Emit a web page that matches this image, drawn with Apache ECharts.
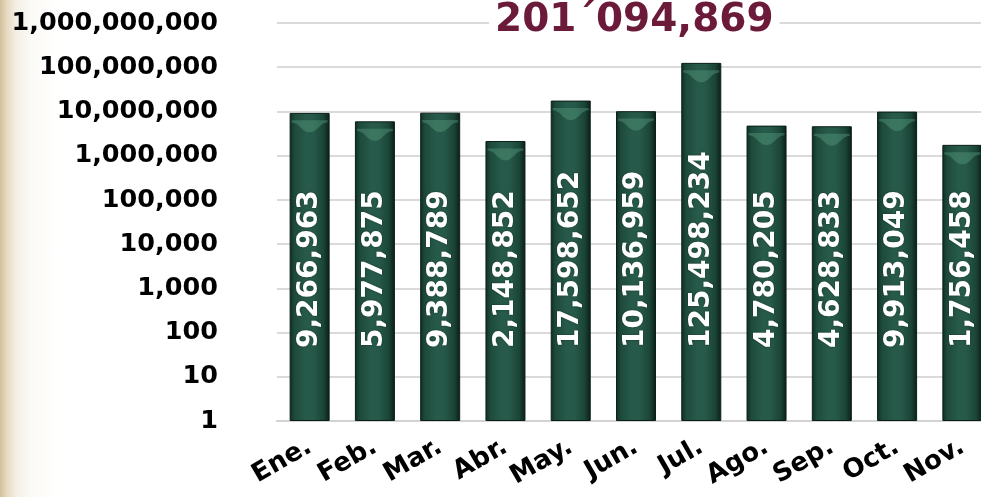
<!DOCTYPE html>
<html>
<head>
<meta charset="utf-8">
<script src="https://cdn.jsdelivr.net/npm/echarts@6/dist/echarts.min.js"></script>
<style>
  html, body { margin: 0; padding: 0; }
  body {
    width: 981px; height: 497px; overflow: hidden;
    background: linear-gradient(to right, #d2c09b 0px, #e6dac2 7px, #f4efe4 16px, #fbfaf6 30px, #ffffff 60px);
  }
  #chart { width: 981px; height: 497px; }
</style>
</head>
<body>
<div id="chart"></div>
<script>
// monthly totals (log scale)
const months = ['Ene.', 'Feb.', 'Mar.', 'Abr.', 'May.', 'Jun.', 'Jul.', 'Ago.', 'Sep.', 'Oct.', 'Nov.']
const values = [9266963, 5977875, 9388789, 2148852, 17598652, 10136959, 125498234, 4780205, 4628833, 9913049, 1756458]
const totalText = '201´094,869'

const fontFam = 'DejaVu Sans'
const fmt = v => Math.round(v).toLocaleString('en-US')

const chart = echarts.init(document.getElementById('chart'))

const barColor = new echarts.graphic.LinearGradient(0, 0, 1, 0, [
  { offset: 0, color: '#0f2c23' },
  { offset: 0.12, color: '#1d4a3b' },
  { offset: 0.4, color: '#275a4a' },
  { offset: 0.6, color: '#265949' },
  { offset: 0.85, color: '#1a4436' },
  { offset: 1, color: '#0a1d17' }
])

const option = {
  backgroundColor: 'transparent',
  animation: false,
  title: {
    text: totalText,
    left: 489,
    top: 1,
    padding: [0, 6],
    backgroundColor: '#ffffff',
    textStyle: { fontFamily: fontFam, fontWeight: 'bold', fontSize: 39, color: '#6b1a3a' }
  },
  grid: { left: 277, top: 23, width: 718, height: 398, containLabel: false, outerBoundsMode: 'none' },
  xAxis: {
    type: 'category',
    data: months,
    axisLine: { lineStyle: { color: '#d2d2d2', width: 2 } },
    axisTick: { show: false },
    axisLabel: {
      rotate: 30, margin: 24, interval: 0,
      fontFamily: fontFam, fontWeight: 'bold', fontSize: 26, color: '#000'
    }
  },
  yAxis: {
    type: 'log',
    logBase: 10,
    min: 1,
    max: 1000000000,
    offset: 27,
    axisLine: { show: false },
    axisTick: { show: false },
    splitLine: { lineStyle: { color: '#dadada', width: 2 } },
    axisLabel: {
      margin: 32,
      fontFamily: fontFam, fontWeight: 'bold', fontSize: 25.5, color: '#000',
      formatter: fmt
    }
  },
  series: [
    {
      type: 'bar',
      data: values,
      barWidth: 40,
      itemStyle: { color: barColor, borderColor: '#0b1f18', borderWidth: 1 },
      label: {
        show: true,
        position: 'insideBottom',
        distance: 71,
        rotate: 90,
        align: 'left',
        verticalAlign: 'middle',
        offset: [2, 0],
        formatter: p => fmt(p.value),
        fontFamily: fontFam, fontWeight: 'bold', fontSize: 28, color: '#ffffff',
        textShadowColor: 'rgba(0,0,0,0.45)', textShadowBlur: 2
      },
      z: 2
    },
    {
      // lighter rim at the top of each bar
      type: 'pictorialBar',
      data: values,
      symbol: 'path://M0,0 L100,0 L100,18 C78,18 72,100 50,100 C28,100 22,18 0,18 Z',
      symbolSize: [36, 12],
      symbolPosition: 'end',
      symbolOffset: [0, '62%'],
      itemStyle: { color: 'rgba(95,165,138,0.38)' },
      z: 3,
      silent: true
    }
  ]
}

chart.setOption(option)
</script>
</body>
</html>
